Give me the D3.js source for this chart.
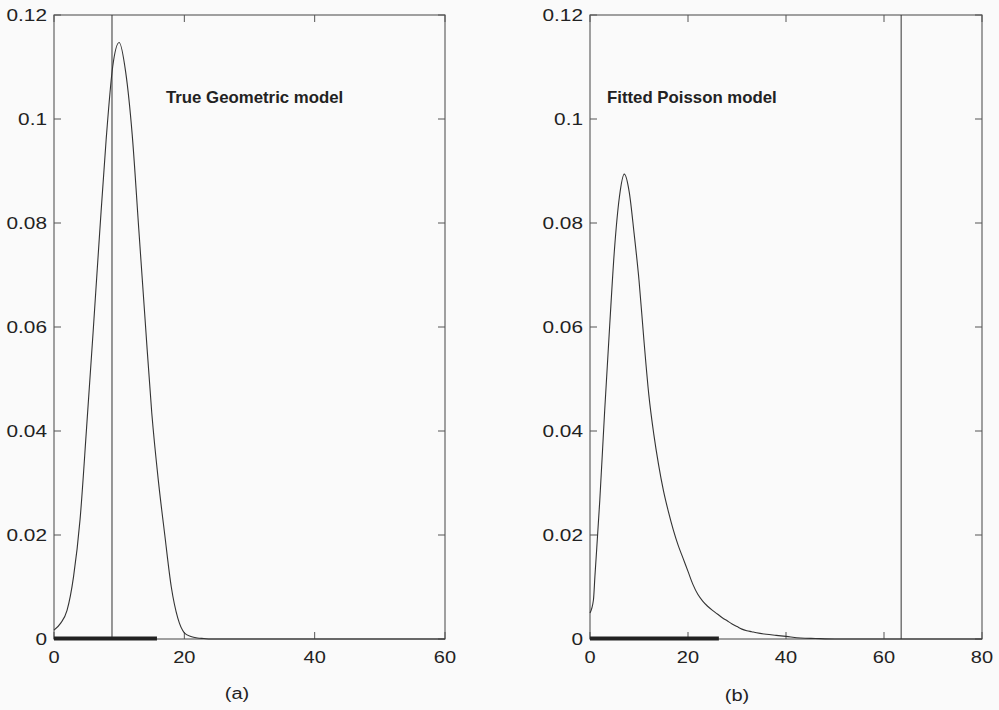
<!DOCTYPE html>
<html><head><meta charset="utf-8">
<script src="https://cdn.jsdelivr.net/npm/d3@7"></script>
<style>body{margin:0;background:#fafafa}svg{display:block}</style>
</head><body>
<svg id="c" width="999" height="710"></svg>
<script>
// ---- data ----
const geoX = [0,1,2,3,4,5,6,7,8,9,10,11,12,13,14,15,16,17,18,19,20,21,22,23,24,30,40,50,60];
const geoY = [0.0017,0.003,0.0055,0.012,0.023,0.0406,0.059,0.078,0.096,0.110,0.1147,0.109,0.097,0.079,0.061,0.0435,0.0306,0.020,0.010,0.004,0.0012,0.0005,0.0002,0.0001,0,0,0,0,0];
const poiX = [0,0.7,1,2,3,4,5,6,7,8,9,10,11,12,13,14,15,16,17,18,19,20,21,22,23,24,25,26,27,28,29,30,31,32,33,34,36,38,40,43,46,50,60,70,80];
const poiY = [0.005,0.0075,0.012,0.0267,0.044,0.060,0.075,0.085,0.0894,0.086,0.078,0.069,0.0575,0.047,0.0395,0.0335,0.0285,0.0245,0.021,0.018,0.0155,0.013,0.0105,0.0086,0.0073,0.0063,0.0055,0.0048,0.0041,0.0035,0.0029,0.0024,0.0019,0.0016,0.0014,0.0012,0.0009,0.0007,0.0005,0.0002,0.0001,0,0,0,0];
const geoVLine = 8.9;
const poiVLine = 63.5;
const geoBar = [0, 15.8];
const poiBar = [0, 26.3];
const yTicks = [0,0.02,0.04,0.06,0.08,0.1,0.12];
const yTickLabels = ["0","0.02","0.04","0.06","0.08","0.1","0.12"];
const geoXTicks = [0,20,40,60];
const poiXTicks = [0,20,40,60,80];
const titles = ["True Geometric model","Fitted Poisson model"];
const subLabels = ["(a)","(b)"];

const svg = d3.select("#c");
svg.append("rect").attr("width",999).attr("height",710).attr("fill","#fafafa");

const panels = [
  {xs:geoX, ys:geoY, vline:geoVLine, bar:geoBar, xTicks:geoXTicks, xDom:[0,60], range:[54,445], title:titles[0], sub:subLabels[0], titleX:166, subX:237, subY:699},
  {xs:poiX, ys:poiY, vline:poiVLine, bar:poiBar, xTicks:poiXTicks, xDom:[0,80], range:[590,982], title:titles[1], sub:subLabels[1], titleX:607, subX:737, subY:701}
];
const plotTop = 15, plotBottom = 639, tickLen = 7;
function txt(g, x, y, s, anchor, size, weight, sx){
  g.append("text").attr("transform",`translate(${x},${y}) scale(${sx},1)`)
    .attr("text-anchor",anchor).attr("font-family","'Liberation Sans', Arial, sans-serif")
    .attr("font-size",size).attr("font-weight",weight||"normal").attr("fill","#222").text(s);
}
panels.forEach(p=>{
  const x = d3.scaleLinear().domain(p.xDom).range(p.range);
  const y = d3.scaleLinear().domain([0,0.12]).range([plotBottom,plotTop]);
  const g = svg.append("g");
  g.append("rect").attr("x",p.range[0]).attr("y",plotTop).attr("width",p.range[1]-p.range[0]).attr("height",plotBottom-plotTop)
    .attr("fill","none").attr("stroke","#555").attr("stroke-width",1.1);
  yTicks.forEach((t,i)=>{
    g.append("line").attr("x1",p.range[0]).attr("x2",p.range[0]+tickLen).attr("y1",y(t)).attr("y2",y(t)).attr("stroke","#555");
    g.append("line").attr("x1",p.range[1]).attr("x2",p.range[1]-tickLen).attr("y1",y(t)).attr("y2",y(t)).attr("stroke","#555");
    txt(g, p.range[0]-7, y(t)+6, yTickLabels[i], "end", "16px", "normal", 1.3);
  });
  p.xTicks.forEach(t=>{
    g.append("line").attr("x1",x(t)).attr("x2",x(t)).attr("y1",plotBottom).attr("y2",plotBottom-tickLen).attr("stroke","#555");
    g.append("line").attr("x1",x(t)).attr("x2",x(t)).attr("y1",plotTop).attr("y2",plotTop+tickLen).attr("stroke","#555");
    txt(g, x(t), 663, String(t), "middle", "16px", "normal", 1.25);
  });
  g.append("line").attr("x1",x(p.vline)).attr("x2",x(p.vline)).attr("y1",plotTop).attr("y2",plotBottom)
    .attr("stroke","#333").attr("stroke-width",1);
  g.append("line").attr("x1",x(p.bar[0])).attr("x2",x(p.bar[1])).attr("y1",y(0)-0.5).attr("y2",y(0)-0.5)
    .attr("stroke","#222").attr("stroke-width",4);
  const pts = p.xs.map((v,i)=>[v,p.ys[i]]);
  g.append("path").datum(pts)
    .attr("d", d3.line().x(d=>x(d[0])).y(d=>y(d[1])).curve(d3.curveMonotoneX))
    .attr("fill","none").attr("stroke","#333").attr("stroke-width",1.1);
  txt(g, p.titleX, 103, p.title, "start", "16px", "bold", 1.05);
  txt(g, p.subX, p.subY, p.sub, "middle", "16px", "normal", 1.25);
});
</script>
</body></html>
